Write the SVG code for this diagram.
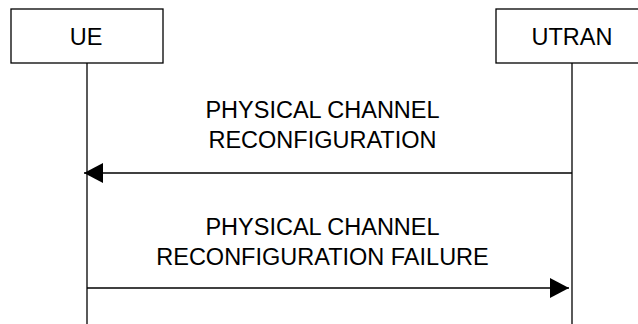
<svg xmlns="http://www.w3.org/2000/svg" width="638" height="324" viewBox="0 0 638 324">
<style>
.box{fill:#fff;stroke:#000;stroke-width:1.3}
.life{stroke:#000;stroke-width:1.3}
.msg{stroke:#000;stroke-width:1.3;fill:none}
text{font-family:"Liberation Sans",Arial,sans-serif;font-size:23.5px;fill:#000;text-anchor:middle}
</style>
<defs>
<marker id="ah" markerUnits="userSpaceOnUse" markerWidth="20" markerHeight="20" refX="19" refY="10" orient="auto">
<path d="M0,0 L19,10 L0,20 Z" fill="#000"/>
</marker>
</defs>
<rect width="638" height="324" fill="#fff"/>
<g id="ue">
<rect class="box" x="11" y="9" width="152" height="54"/>
<line class="life" x1="87" y1="63" x2="87" y2="324"/>
<text x="86" y="45">UE</text>
</g>
<g id="utran">
<rect class="box" x="496" y="9" width="145" height="54"/>
<line class="life" x1="572" y1="63" x2="572" y2="324"/>
<text x="572" y="45">UTRAN</text>
</g>
<g id="connectors">
<line class="msg" x1="572" y1="173" x2="84" y2="173" marker-end="url(#ah)"/>
<line class="msg" x1="87" y1="288" x2="569" y2="288" marker-end="url(#ah)"/>
</g>
<g id="labels">
<text x="322.5" y="118">PHYSICAL CHANNEL</text>
<text x="322.5" y="148">RECONFIGURATION</text>
<text x="322.5" y="235">PHYSICAL CHANNEL</text>
<text x="322.5" y="265">RECONFIGURATION FAILURE</text>
</g>
</svg>
